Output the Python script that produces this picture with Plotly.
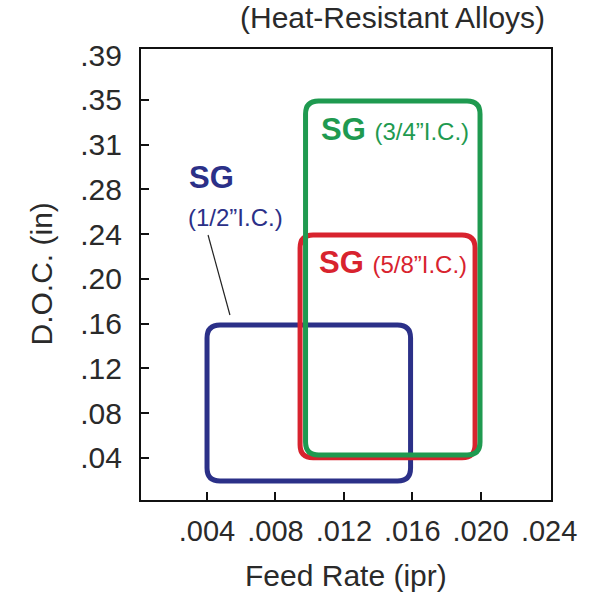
import plotly.graph_objects as go

# ---------------- data ----------------
x_tick_vals = [0.004, 0.008, 0.012, 0.016, 0.020, 0.024]
x_tick_text = [".004", ".008", ".012", ".016", ".020", ".024"]
x_tick_marks = [0.004, 0.008, 0.012, 0.016, 0.020]

# y axis ticks are evenly spaced; labels as printed on the chart
y_tick_vals = [0.04, 0.08, 0.12, 0.16, 0.20, 0.24, 0.28, 0.32, 0.36, 0.40]
y_tick_text = [".04", ".08", ".12", ".16", ".20", ".24", ".28", ".31", ".35", ".39"]
y_tick_marks = [0.04, 0.08, 0.12, 0.16, 0.20, 0.24, 0.28, 0.32, 0.36]

box_names = ["1/2", "5/8", "3/4"]
box_feed_min = [0.0040, 0.00944, 0.00976]
box_feed_max = [0.0159, 0.01967, 0.01996]
box_doc_min = [0.0192, 0.0400, 0.0424]
box_doc_max = [0.1587, 0.2392, 0.3591]
box_colors = ["#2B3088", "#D8232E", "#1F9A50"]

# label anchors (feed, doc)
label_feed = [0.00283, 0.01043, 0.01055]
label_doc = [0.2911, 0.2142, 0.3332]
sub_feed_blue = 0.00277
sub_doc_blue = 0.2553
leader_feed = [0.00406, 0.00534]
leader_doc = [0.2392, 0.1677]

x_range = [0.00014, 0.02411]
y_range = [0.0022, 0.4056]

# ---------------- layout geometry ----------------
W, H = 600, 600
ML, MR, MT, MB = 141, 49, 49, 100
PW, PH = W - ML - MR, H - MT - MB
sx = PW / (x_range[1] - x_range[0])
sy = PH / (y_range[1] - y_range[0])
R_PX = 13
rx, ry = R_PX / sx, R_PX / sy

FONT = "Liberation Sans, Arial, sans-serif"
TXT = "#2a2a2a"


def rounded_rect(x0, x1, y0, y1):
    return (
        f"M {x0+rx},{y0} L {x1-rx},{y0} Q {x1},{y0} {x1},{y0+ry} "
        f"L {x1},{y1-ry} Q {x1},{y1} {x1-rx},{y1} "
        f"L {x0+rx},{y1} Q {x0},{y1} {x0},{y1-ry} "
        f"L {x0},{y0+ry} Q {x0},{y0} {x0+rx},{y0} Z"
    )


fig = go.Figure()
# dummy traces so that both axis pairs are rendered
fig.add_trace(go.Scatter(x=[None], y=[None], xaxis="x", yaxis="y", showlegend=False))
fig.add_trace(go.Scatter(x=[None], y=[None], xaxis="x2", yaxis="y2", showlegend=False))

shapes = []
for i in range(len(box_names)):
    shapes.append(dict(
        type="path", xref="x", yref="y",
        path=rounded_rect(box_feed_min[i], box_feed_max[i], box_doc_min[i], box_doc_max[i]),
        line=dict(color=box_colors[i], width=5), fillcolor="rgba(0,0,0,0)", layer="above",
    ))
shapes.append(dict(type="line", xref="x", yref="y",
                   x0=leader_feed[0], y0=leader_doc[0], x1=leader_feed[1], y1=leader_doc[1],
                   line=dict(color="#222222", width=1.2)))

annotations = []
# blue label (two lines)
annotations.append(dict(x=label_feed[0], y=label_doc[0], xref="x", yref="y", xanchor="left", yanchor="middle",
                        text="<b>SG</b>", showarrow=False,
                        font=dict(family=FONT, size=31, color=box_colors[0])))
annotations.append(dict(x=sub_feed_blue, y=sub_doc_blue, xref="x", yref="y", xanchor="left", yanchor="middle",
                        text="(1/2\u201dI.C.)", showarrow=False,
                        font=dict(family=FONT, size=24, color=box_colors[0])))
for i in [1, 2]:
    annotations.append(dict(
        x=label_feed[i], y=label_doc[i], xref="x", yref="y", xanchor="left", yanchor="middle",
        text=f"<b>SG</b> <span style='font-size:24px'>({box_names[i]}\u201dI.C.)</span>",
        showarrow=False, font=dict(family=FONT, size=31, color=box_colors[i])))

# title and axis titles
annotations.append(dict(x=(547 - ML) / PW, y=(MT + PH - 18) / PH, xref="paper", yref="paper",
                        xanchor="right", yanchor="middle", text="(Heat-Resistant Alloys)", showarrow=False,
                        font=dict(family=FONT, size=30, color=TXT)))
annotations.append(dict(x=(41 - ML) / PW, y=0.5, xref="paper", yref="paper",
                        xanchor="center", yanchor="middle", text="D.O.C. (in)", textangle=-90, showarrow=False,
                        font=dict(family=FONT, size=30, color=TXT)))
annotations.append(dict(x=0.5, y=(MT + PH - 575) / PH, xref="paper", yref="paper",
                        xanchor="center", yanchor="middle", text="Feed Rate (ipr)", showarrow=False,
                        font=dict(family=FONT, size=30, color=TXT)))

fig.update_layout(
    width=W, height=H, margin=dict(l=ML, r=MR, t=MT, b=MB, autoexpand=False),
    paper_bgcolor="white", plot_bgcolor="white", showlegend=False,
    shapes=shapes, annotations=annotations,
    xaxis=dict(range=x_range, tickmode="array", tickvals=x_tick_vals, ticktext=x_tick_text,
               ticks="", showgrid=False, zeroline=False, showline=True, mirror=True,
               linecolor="#111111", linewidth=2, ticklabelstandoff=4,
               tickfont=dict(family=FONT, size=29, color=TXT)),
    yaxis=dict(range=y_range, tickmode="array", tickvals=y_tick_vals, ticktext=y_tick_text,
               ticks="", showgrid=False, zeroline=False, showline=True, mirror=True,
               linecolor="#111111", linewidth=2, ticklabelstandoff=11,
               tickfont=dict(family=FONT, size=30, color=TXT)),
    xaxis2=dict(range=x_range, overlaying="x", anchor="y", side="bottom", tickmode="array",
                tickvals=x_tick_marks, ticks="inside", ticklen=8, tickwidth=2, tickcolor="#111111",
                showticklabels=False, showgrid=False, zeroline=False, showline=False),
    yaxis2=dict(range=y_range, overlaying="y", anchor="x", side="left", tickmode="array",
                tickvals=y_tick_marks, ticks="inside", ticklen=8, tickwidth=2, tickcolor="#111111",
                showticklabels=False, showgrid=False, zeroline=False, showline=False),
)

fig.write_html("out.html")
